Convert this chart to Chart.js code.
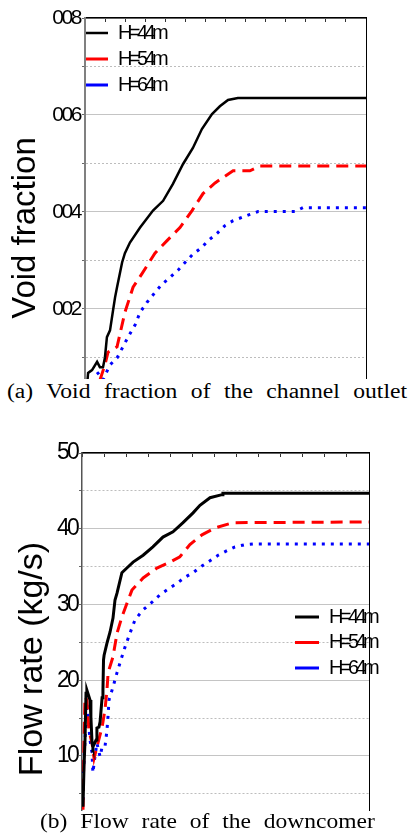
<!DOCTYPE html>
<html><head><meta charset="utf-8">
<script src="https://cdn.jsdelivr.net/npm/chart.js@4.4.1/dist/chart.umd.min.js"></script>
<style>
html,body{margin:0;padding:0;background:#fff;}
body{width:409px;height:837px;position:relative;overflow:hidden;}
.clip{position:absolute;left:0;width:409px;overflow:hidden;}
.cap{position:absolute;font-family:"Liberation Serif","Times New Roman",serif;color:#000;text-align:justify;text-align-last:justify;transform-origin:0 0;}
</style></head>
<body>
<div class="clip" style="top:0;height:379px"><canvas id="chart1" width="409" height="440" style="width:409px;height:440px"></canvas></div>
<div class="cap" id="cap1" style="left:7px;top:381px;width:339px;font-size:20px;line-height:20px;transform:scaleX(1.18)">(a) Void fraction of the channel outlet</div>
<div class="clip" style="top:420px;height:391px"><canvas id="chart2" width="409" height="447" style="width:409px;height:447px"></canvas></div>
<div class="cap" id="cap2" style="left:40px;top:811px;width:299px;font-size:21px;line-height:21px;transform:scaleX(1.12)">(b) Flow rate of the downcomer</div>
<script>
// ---------- data ----------
const legendLabels = ['H=44m', 'H=54m', 'H=64m'];

// (a) void fraction (x in % of plotted time span)
const tBlack1 = [0.7,1.1,2.5,4.3,5.3,6.4,7.1,7.8,8.9,10.0,10.7,11.4,13.2,14.2,16.0,19.6,24.2,27.8,31.3,34.9,38.4,41.6,45.2,48.0,50.9,54.4,100];
const vBlack1 = [0.004,0.0068,0.0074,0.0091,0.0080,0.0080,0.0100,0.0142,0.0156,0.0198,0.0224,0.0245,0.0296,0.0315,0.0337,0.0368,0.0403,0.0423,0.0458,0.0499,0.0532,0.0571,0.0602,0.0618,0.0631,0.0635,0.0635];
const tRed1 = [5.3,7.1,8.2,11.4,14.2,17.1,20.3,24.9,29.2,33.8,38.1,42.0,46.3,52.7,58.7,62.3,100];
const vRed1 = [0.0053,0.0085,0.0111,0.0122,0.0193,0.0245,0.0273,0.0315,0.0341,0.0368,0.0403,0.0438,0.0460,0.0485,0.0485,0.0495,0.0495];
const tBlue1 = [4.3,6.4,8.9,11.4,13.5,15.3,17.8,19.6,22.1,24.9,27.4,30.2,33.1,35.6,38.4,41.6,43.8,47.0,49.8,52.7,55.9,58.7,61.6,74.7,77.6,100];
const vBlue1 = [0.0070,0.0054,0.0085,0.0099,0.0122,0.0142,0.0167,0.0193,0.0214,0.0234,0.0251,0.0265,0.0280,0.0296,0.0313,0.0327,0.0341,0.0356,0.0372,0.0382,0.0389,0.0395,0.0401,0.0401,0.0409,0.0409];
const yGrid1 = [0.01,0.02,0.03,0.04,0.05,0.06,0.07,0.08];
const yTickValues1 = [0.02,0.04,0.06,0.08];
const yTickLabels1 = ['002','004','006','008'];

// (b) flow rate
const tBlack2 = [0.35,0.7,1.05,1.4,1.7,2.8,3.1,3.5,3.8,4.9,5.2,5.9,6.3,7.0,7.3,7.5,7.7,8.7,9.8,10.8,11.5,12.2,13.9,16.0,17.8,21.3,24.7,28.2,31.7,35.2,38.7,41.1,44.6,48.8,49.1,100];
const vBlack2 = [3.3,8.55,12.1,18.3,18.7,17.4,15.15,11.7,11.2,12.1,13.7,13.8,14.5,17.7,18.7,22.7,23.3,24.9,26.4,28.2,30.6,31.5,34.2,34.95,35.6,36.5,37.6,38.9,39.6,40.8,42.1,43.1,44.1,44.5,44.7,44.7];
const tRed2 = [0.35,0.5,0.7,1.05,1.7,2.1,2.4,3.5,4.2,5.2,7.0,8.0,8.7,9.1,10.8,12.2,13.9,15.7,17.4,21.3,26.1,30.7,34.1,37.6,41.8,46.3,52.6,100];
const vRed2 = [2.9,6.8,12.1,17.8,17.4,15.15,13.4,11.7,9.7,11.2,13.8,16.1,18.7,21.0,23.1,26.2,28.35,30.2,31.9,33.5,34.8,35.6,36.3,37.9,39.2,40.1,40.8,40.9];
const tBlue2 = [0.35,0.5,1.05,1.7,2.1,2.8,3.5,3.8,4.5,5.2,6.3,7.0,8.0,8.7,9.1,9.4,10.8,12.2,13.9,15.0,16.7,18.5,21.3,24.4,27.2,30.7,33.1,35.9,38.7,41.8,43.9,47.4,50.5,53.3,56.8,59.6,100];
const vBlue2 = [4.2,7.8,12.1,17.0,15.15,12.1,10.4,7.8,9.9,11.7,9.9,11.2,11.2,13.4,15.4,17.4,19.1,21.0,23.1,24.4,26.2,28.0,29.3,30.3,31.3,32.2,32.8,33.6,34.2,35.1,35.6,36.5,37.1,37.6,37.9,38.0,38.0];
const yGrid2 = [5,10,15,20,25,30,35,40,45,50];
const yTickValues2 = [10,20,30,40,50];
const yTickLabels2 = ['10','20','30','40','50'];

// ---------- helpers ----------
const xy = (t, v) => t.map((x, i) => ({x: x, y: v[i]}));
const SANS = '"Liberation Sans", Arial, sans-serif';
const spacingBySize = {20: '-3.6px', 21: '-2.4px', 23: '-2.8px'};

const condense = {
  id: 'condense',
  beforeInit(chart) {
    const ctx = chart.ctx;
    const orig = ctx.fillText.bind(ctx);
    ctx.fillText = function (text, x, y, maxWidth) {
      const m = /(\d+(?:\.\d+)?)px/.exec(ctx.font);
      const size = m ? Math.round(parseFloat(m[1])) : 0;
      const prev = ctx.letterSpacing;
      ctx.letterSpacing = spacingBySize[size] || '0px';
      if (maxWidth === undefined || maxWidth === null) orig(text, x, y); else orig(text, x, y, maxWidth);
      ctx.letterSpacing = prev;
    };
  }
};
const legendPlace = {
  id: 'legendPlace',
  beforeDraw(chart, args, opts) {
    const lg = chart.legend;
    if (!lg || !opts || opts.left === undefined) return;
    lg.left = opts.left; lg.top = opts.top;
    lg.width = 200; lg.right = opts.left + 200;
    lg.bottom = chart.height; lg.height = chart.height - opts.top;
  }
};

function makeChart(id, cfg) {
  const isLabeled = (v) => cfg.tickValues.some(t => Math.abs(t - v) < 1e-9);
  return new Chart(document.getElementById(id), {
    type: 'line',
    data: {
      datasets: [
        {label: legendLabels[0], data: xy(cfg.tB, cfg.vB), borderColor: '#000000', borderWidth: cfg.blackW, borderDash: [], pointRadius: 0, tension: 0},
        {label: legendLabels[1], data: xy(cfg.tR, cfg.vR), borderColor: '#ff0000', borderWidth: 3, borderDash: [12, 7], pointRadius: 0, tension: 0},
        {label: legendLabels[2], data: xy(cfg.tL, cfg.vL), borderColor: '#0000ff', borderWidth: 3, borderDash: [3, 6], pointRadius: 0, tension: 0}
      ]
    },
    plugins: [condense, legendPlace],
    options: {
      responsive: false, animation: false, devicePixelRatio: 1,
      layout: {padding: {left: 0, top: cfg.padTop, right: cfg.padRight, bottom: 2}},
      plugins: {
        legend: {
          display: true, position: 'chartArea', align: 'start',
          labels: {usePointStyle: true, pointStyle: 'line', pointStyleWidth: 24, color: '#000',
                   font: {family: SANS, size: 20}, padding: cfg.legPad}
        },
        legendPlace: {left: cfg.legLeft, top: cfg.legTop},
        tooltip: {enabled: false}
      },
      scales: {
        x: {
          type: 'linear', position: 'top', min: 0, max: 100,
          ticks: {display: false, stepSize: 100 / cfg.xSteps},
          grid: {drawOnChartArea: false, drawTicks: true, tickLength: -4, color: '#333', lineWidth: 1},
          border: {display: true, color: '#000', width: 1.5},
          afterFit(s) { s.height = 0; s.paddingLeft = 0; s.paddingRight = 0; }
        },
        y: {
          type: 'linear', position: 'left', min: cfg.yMin, max: cfg.yMax,
          afterBuildTicks(s) { s.ticks = cfg.grid.map(v => ({value: v})); },
          afterFit(s) { s.width = cfg.axisW; s.paddingTop = 0; s.paddingBottom = 0; },
          ticks: {
            autoSkip: false, padding: 2, color: '#000',
            font: {family: SANS, size: cfg.tickSize},
            callback: (v) => { const i = cfg.tickValues.findIndex(t => Math.abs(t - v) < 1e-9); return i >= 0 ? cfg.tickLabels[i] : ''; }
          },
          grid: {
            drawTicks: true, tickLength: 3, tickColor: '#666', lineWidth: 1,
            color: (c) => (c.tick && isLabeled(c.tick.value)) ? '#c4c4c4' : '#bdbdbd'
          },
          border: {
            display: true, color: cfg.axisColor, width: cfg.axisLW,
            dash: (c) => (c.tick && !isLabeled(c.tick.value)) ? [2, 2] : []
          },
          title: {display: true, text: cfg.title, color: '#000',
                  font: {family: SANS, size: cfg.titleSize}, padding: {top: cfg.titlePad, bottom: 0}}
        },
        y2: {
          type: 'linear', position: 'right', display: true,
          ticks: {display: false}, grid: {display: false, drawTicks: false},
          border: {display: true, color: '#000', width: 1},
          afterFit(s) { s.width = 0; s.paddingTop = 0; s.paddingBottom = 0; }
        }
      }
    }
  });
}

makeChart('chart1', {
  tB: tBlack1, vB: vBlack1, tR: tRed1, vR: vRed1, tL: tBlue1, vL: vBlue1,
  blackW: 2.5, yMin: -0.0066, yMax: 0.08, grid: yGrid1, tickValues: yTickValues1, tickLabels: yTickLabels1,
  padTop: 18, padRight: 43, axisW: 85, tickSize: 21, axisColor: '#808080', axisLW: 2,
  title: 'Void fraction', titleSize: 33, titlePad: 6, xSteps: 14,
  legPad: 6, legLeft: 78, legTop: 17
});
makeChart('chart2', {
  tB: tBlack2, vB: vBlack2, tR: tRed2, vR: vRed2, tL: tBlue2, vL: vBlue2,
  blackW: 3, yMin: -4.39, yMax: 50, grid: yGrid2, tickValues: yTickValues2, tickLabels: yTickLabels2,
  padTop: 33, padRight: 40, axisW: 82, tickSize: 23, axisColor: '#555555', axisLW: 1.5,
  title: 'Flow rate (kg/s)', titleSize: 34, titlePad: 12, xSteps: 13,
  legPad: 5.5, legLeft: 289.5, legTop: 181.5
});
</script>
</body></html>
